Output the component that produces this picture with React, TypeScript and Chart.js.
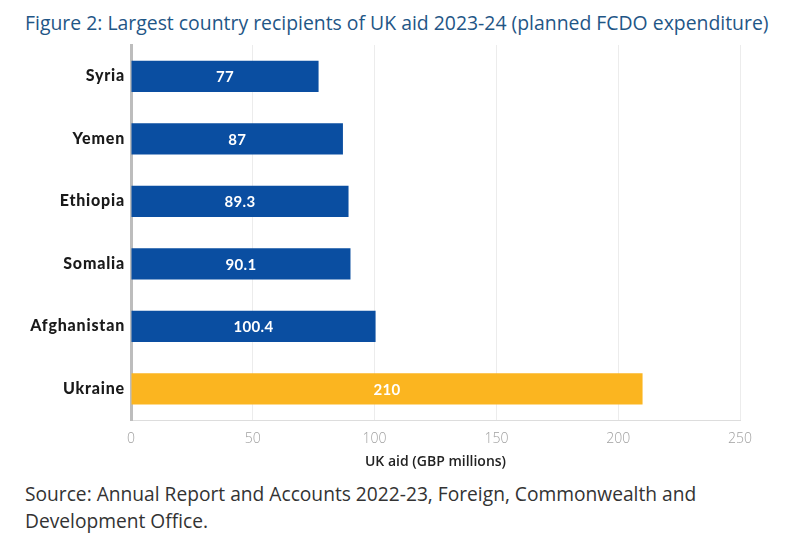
import React, { useEffect, useRef } from "react";
import { Chart, registerables } from "chart.js";

Chart.register(...registerables);

const countries = ["Syria", "Yemen", "Ethiopia", "Somalia", "Afghanistan", "Ukraine"];
const values = [77, 87, 89.3, 90.1, 100.4, 210];
const valueLabels = ["77", "87", "89.3", "90.1", "100.4", "210"];
const barColors = ["#0a4ea1", "#0a4ea1", "#0a4ea1", "#0a4ea1", "#0a4ea1", "#fbb520"];
const xTicks = [0, 50, 100, 150, 200, 250];

const titleText = "Figure 2: Largest country recipients of UK aid 2023-24 (planned FCDO expenditure)";
const axisTitle = "UK aid (GBP millions)";
const sourceLines = [
  "Source: Annual Report and Accounts 2022-23, Foreign, Commonwealth and",
  "Development Office.",
];

const labelPlugin = {
  id: "customLabels",
  afterDatasetsDraw(chart: any) {
    const ctx = chart.ctx;
    const meta = chart.getDatasetMeta(0);
    const yScale = chart.scales.y;
    ctx.save();
    // value labels inside bars
    ctx.fillStyle = "#ffffff";
    ctx.font = "bold 15px Lato, 'Open Sans', sans-serif";
    (ctx as any).letterSpacing = "0.3px";
    ctx.textAlign = "center";
    ctx.textBaseline = "middle";
    meta.data.forEach((bar: any, i: number) => {
      const x = (bar.x + bar.base) / 2;
      ctx.fillText(valueLabels[i], x, bar.y + 1);
    });
    // category labels
    ctx.fillStyle = "#1a1a1a";
    ctx.font = "900 16px Lato, sans-serif";
    (ctx as any).letterSpacing = "0.8px";
    ctx.textAlign = "right";
    countries.forEach((c, i) => {
      const y = yScale.getPixelForValue(i);
      ctx.fillText(c, yScale.right - 6, y);
    });
    ctx.restore();
  },
};

export default function App() {
  const ref = useRef<HTMLCanvasElement>(null);

  useEffect(() => {
    document.body.style.margin = "0";
    const chart = new Chart(ref.current!, {
      type: "bar",
      data: {
        labels: countries,
        datasets: [
          {
            data: values,
            backgroundColor: barColors,
            borderWidth: 0,
            barPercentage: 0.5,
            categoryPercentage: 1,
          },
        ],
      },
      options: {
        indexAxis: "y",
        animation: false,
        responsive: false,
        maintainAspectRatio: false,
        layout: { padding: { top: 45, right: 60, bottom: 10, left: 0 } },
        plugins: {
          legend: { display: false },
          tooltip: { enabled: false },
        },
        scales: {
          x: {
            min: 0,
            max: 250,
            afterBuildTicks(scale: any) {
              scale.ticks = xTicks.map((v) => ({ value: v }));
            },
            afterFit(scale: any) {
              scale.height = 50;
            },
            grid: { color: "#ececec", lineWidth: 1, drawTicks: false },
            border: { color: "#dddddd", width: 1 },
            ticks: {
              color: "#a0a0a0",
              padding: 11,
              font: { family: "'Open Sans', sans-serif", size: 14, weight: "300" },
            },
            title: {
              display: true,
              text: axisTitle,
              color: "#222222",
              padding: { top: 0, bottom: 0 },
              font: { family: "'Open Sans', sans-serif", size: 14, weight: "600" },
            },
          },
          y: {
            afterFit(scale: any) {
              scale.width = 131;
            },
            grid: { display: false, drawTicks: false },
            border: { color: "#bdbdbd", width: 3 },
            ticks: { display: false },
          },
        },
      },
      plugins: [labelPlugin],
    });
    return () => chart.destroy();
  }, []);

  return (
    <div style={{ position: "fixed", left: 0, top: 0, width: 800, height: 542, background: "#fff", overflow: "hidden" }}>
      <div
        style={{
          position: "absolute",
          left: 25,
          top: 9,
          fontFamily: "'Open Sans', sans-serif",
          fontSize: 19.4,
          color: "#1f5686",
          whiteSpace: "nowrap",
        }}
      >
        {titleText}
      </div>
      <canvas ref={ref} width={800} height={480} style={{ position: "absolute", left: 0, top: 0 }} />
      <div
        style={{
          position: "absolute",
          left: 25,
          top: 480,
          fontFamily: "'Open Sans', sans-serif",
          fontSize: 19.2,
          lineHeight: "27px",
          color: "#333",
          whiteSpace: "nowrap",
        }}
      >
        {sourceLines.map((l, i) => (
          <div key={i}>{l}</div>
        ))}
      </div>
    </div>
  );
}
